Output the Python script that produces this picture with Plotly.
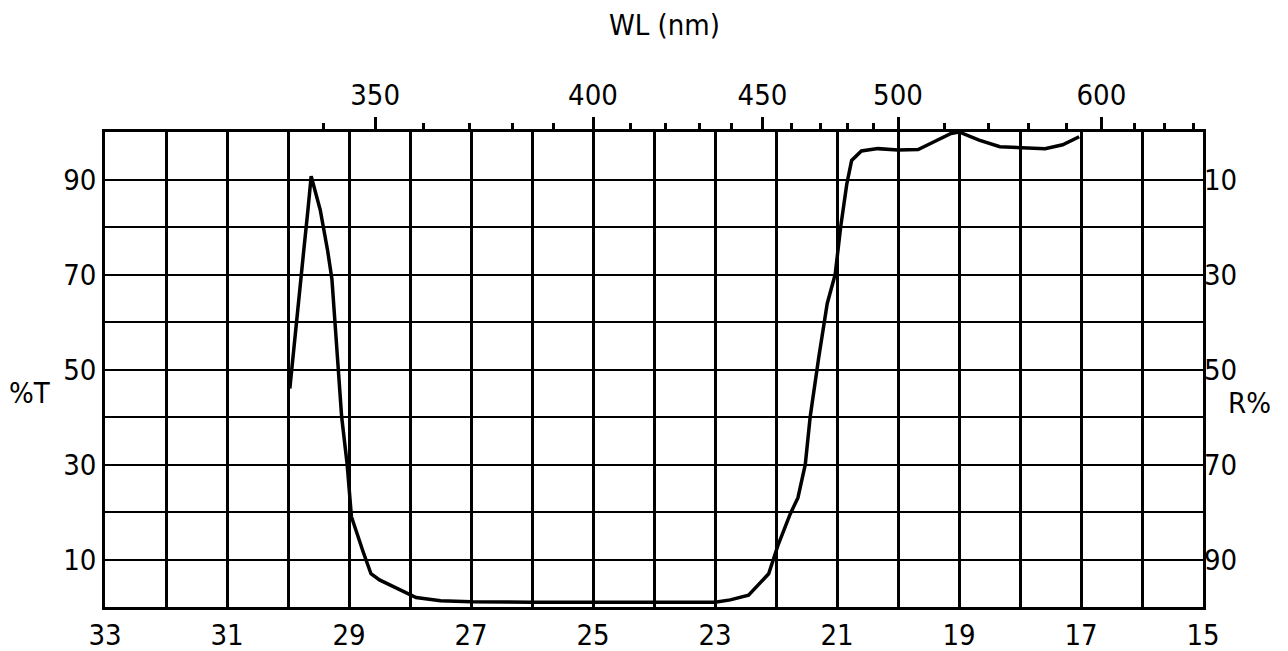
import plotly.graph_objects as go

# Wavenumber (10^3 cm^-1) and transmittance (%T)
wavenumber = [29.97, 29.87, 29.75, 29.67, 29.62, 29.47, 29.35, 29.28, 29.23, 29.17,
              29.12, 29.03, 28.96, 28.77, 28.64, 28.50, 28.16, 27.90, 27.50, 27.00,
              26.00, 25.00, 24.00, 23.30, 23.00, 22.75, 22.45, 22.12, 21.97, 21.77,
              21.64, 21.52, 21.44, 21.30, 21.16, 21.03, 20.94, 20.84, 20.76, 20.60,
              20.33, 20.00, 19.67, 19.40, 19.13, 19.00, 18.67, 18.33, 18.00, 17.59,
              17.30, 17.08, 17.03]
transmittance = [46, 59.6, 74, 84, 90.7, 83.5, 75, 69, 59.6, 50,
                 40, 30, 19, 11.7, 7, 5.7, 3.6, 2, 1.3, 1.1,
                 1.0, 1.0, 1.0, 1.1, 1.0, 1.5, 2.5, 7, 12.9, 19.5,
                 23, 30, 40, 52.5, 63.9, 70, 80, 89, 94, 96,
                 96.5, 96.2, 96.3, 98, 99.7, 100, 98.3, 96.9, 96.7, 96.5,
                 97.3, 98.8, 99]

bottom_ticks = list(range(15, 34))
bottom_labels = [str(v) if v % 2 == 1 else "" for v in bottom_ticks]
left_ticks = list(range(0, 101, 10))
left_labels = [str(v) if v in (10, 30, 50, 70, 90) else "" for v in left_ticks]
right_ticks = [10, 30, 50, 70, 90]
wl_major_nm = [350, 400, 450, 500, 600]
wl_minor_nm = [340, 360, 370, 380, 390, 410, 420, 430, 440, 460, 470, 480, 490,
               520, 540, 560, 580, 620, 640, 660]

FONT = "DejaVu Sans Condensed, Liberation Sans Narrow, Arial Narrow, sans-serif"
fs = 29

fig = go.Figure()
fig.add_trace(go.Scatter(x=wavenumber, y=transmittance, mode="lines",
                         line=dict(color="black", width=3.5), xaxis="x", yaxis="y",
                         hoverinfo="skip"))
# invisible traces to anchor the secondary axes
fig.add_trace(go.Scatter(x=[33, 15], y=[0, 100], mode="markers", marker=dict(opacity=0),
                         xaxis="x", yaxis="y2", hoverinfo="skip"))
fig.add_trace(go.Scatter(x=[33, 15], y=[0, 100], mode="markers", marker=dict(opacity=0),
                         xaxis="x2", yaxis="y", hoverinfo="skip"))
fig.add_trace(go.Scatter(x=[33, 15], y=[0, 100], mode="markers", marker=dict(opacity=0),
                         xaxis="x3", yaxis="y", hoverinfo="skip"))

fig.update_layout(
    width=1288, height=651,
    margin=dict(l=97, r=93, t=124, b=52, autoexpand=False),
    plot_bgcolor="white", paper_bgcolor="white",
    showlegend=False,
    font=dict(family=FONT, color="black", size=fs),
    xaxis=dict(range=[33, 15], tickmode="array", tickvals=bottom_ticks, ticktext=bottom_labels,
               showgrid=True, gridcolor="black", gridwidth=2.5, zeroline=False,
               showline=True, linecolor="black", linewidth=2.5, mirror=True,
               ticks="", tickfont=dict(size=fs, family=FONT)),
    yaxis=dict(range=[0, 100], tickmode="array", tickvals=left_ticks, ticktext=left_labels,
               showgrid=True, gridcolor="black", gridwidth=1.6, zeroline=False,
               showline=True, linecolor="black", linewidth=2.5, mirror=True,
               ticks="", tickfont=dict(size=fs, family=FONT)),
    yaxis2=dict(range=[100, 0], overlaying="y", side="right", tickmode="array",
                tickvals=right_ticks, ticktext=[str(v) for v in right_ticks],
                showgrid=False, zeroline=False, ticks="", showline=False,
                tickfont=dict(size=fs, family=FONT)),
    xaxis2=dict(range=[33, 15], overlaying="x", side="top", anchor="y", tickmode="array",
                tickvals=[10000 / n for n in wl_major_nm], ticktext=[str(n) for n in wl_major_nm],
                ticks="outside", ticklen=14, tickwidth=2.5, tickcolor="black",
                showgrid=False, zeroline=False, showline=False,
                tickfont=dict(size=fs, family=FONT)),
    xaxis3=dict(range=[33, 15], overlaying="x", side="top", anchor="y", tickmode="array",
                tickvals=[10000 / n for n in wl_minor_nm], showticklabels=False,
                ticks="outside", ticklen=8, tickwidth=2.5, tickcolor="black",
                showgrid=False, zeroline=False, showline=False),
    annotations=[
        dict(text="WL (nm)", xref="paper", yref="paper", x=0.51, y=1.225,
             yanchor="middle", xanchor="center",
             showarrow=False, font=dict(size=fs, family=FONT)),
        dict(text="%T", xref="paper", yref="paper", x=-0.068, y=0.45,
             yanchor="middle", xanchor="center",
             showarrow=False, font=dict(size=fs, family=FONT)),
        dict(text="R%", xref="paper", yref="paper", x=1.042, y=0.43,
             yanchor="middle", xanchor="center",
             showarrow=False, font=dict(size=fs, family=FONT)),
    ],
)

fig.write_html("out.html")
